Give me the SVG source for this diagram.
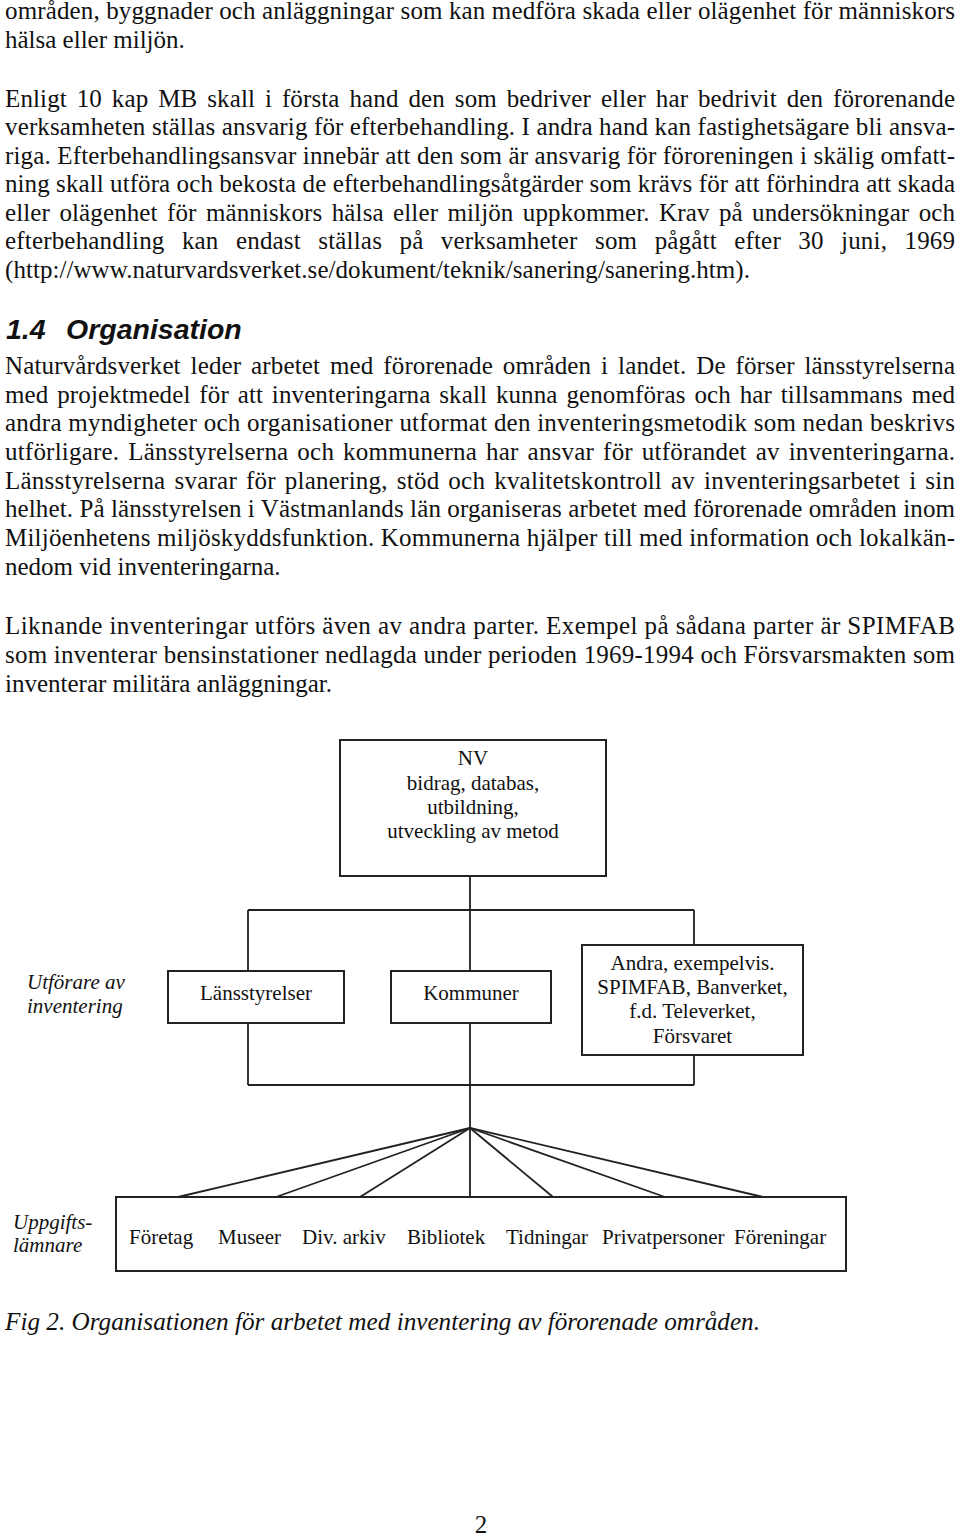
<svg xmlns="http://www.w3.org/2000/svg" width="960" height="1537" viewBox="0 0 960 1537">
<style>
.body{font-family:"Liberation Serif","Times New Roman",serif;font-size:25px;fill:#111}
.head{font-family:"Liberation Sans",Arial,sans-serif;font-size:28.5px;font-weight:bold;font-style:italic;fill:#111}
.lbl{font-family:"Liberation Serif","Times New Roman",serif;font-size:21px;fill:#111}
.it{font-family:"Liberation Serif","Times New Roman",serif;font-size:21px;font-style:italic;fill:#111}
.cap{font-family:"Liberation Serif","Times New Roman",serif;font-size:25px;font-style:italic;fill:#111}
.box{fill:#fff;stroke:#222;stroke-width:2}
.ln{stroke:#222;stroke-width:1.8;fill:none}
</style>
<rect width="960" height="1537" fill="#fff"/>
<g id="text-body">
<text class="body" x="5" y="19" textLength="950" lengthAdjust="spacing">områden, byggnader och anläggningar som kan medföra skada eller olägenhet för människors</text>
<text class="body" x="5" y="48">hälsa eller miljön.</text>
<text class="body" x="5" y="106.5" word-spacing="3.5" textLength="950" lengthAdjust="spacing">Enligt 10 kap MB skall i första hand den som bedriver eller har bedrivit den förorenande</text>
<text class="body" x="5" y="135" textLength="950" lengthAdjust="spacing">verksamheten ställas ansvarig för efterbehandling. I andra hand kan fastighetsägare bli ansva-</text>
<text class="body" x="5" y="163.5" textLength="950" lengthAdjust="spacing">riga. Efterbehandlingsansvar innebär att den som är ansvarig för föroreningen i skälig omfatt-</text>
<text class="body" x="5" y="192" textLength="950" lengthAdjust="spacing">ning skall utföra och bekosta de efterbehandlingsåtgärder som krävs för att förhindra att skada</text>
<text class="body" x="5" y="220.5" word-spacing="3" textLength="950" lengthAdjust="spacing">eller olägenhet för människors hälsa eller miljön uppkommer. Krav på undersökningar och</text>
<text class="body" x="5" y="249" word-spacing="11" textLength="950" lengthAdjust="spacing">efterbehandling kan endast ställas på verksamheter som pågått efter 30 juni, 1969</text>
<text class="body" x="5" y="277.5" textLength="745" lengthAdjust="spacing">(http://www.naturvardsverket.se/dokument/teknik/sanering/sanering.htm).</text>
<text class="head" x="6" y="339">1.4</text>
<text class="head" x="66" y="339">Organisation</text>
<text class="body" x="5" y="374" word-spacing="3.5" textLength="950" lengthAdjust="spacing">Naturvårdsverket leder arbetet med förorenade områden i landet. De förser länsstyrelserna</text>
<text class="body" x="5" y="402.7" word-spacing="2.5" textLength="950" lengthAdjust="spacing">med projektmedel för att inventeringarna skall kunna genomföras och har tillsammans med</text>
<text class="body" x="5" y="431.4" textLength="950" lengthAdjust="spacing">andra myndigheter och organisationer utformat den inventeringsmetodik som nedan beskrivs</text>
<text class="body" x="5" y="460" word-spacing="2.5" textLength="950" lengthAdjust="spacing">utförligare. Länsstyrelserna och kommunerna har ansvar för utförandet av inventeringarna.</text>
<text class="body" x="5" y="488.7" word-spacing="2.5" textLength="950" lengthAdjust="spacing">Länsstyrelserna svarar för planering, stöd och kvalitetskontroll av inventeringsarbetet i sin</text>
<text class="body" x="5" y="517.4" textLength="950" lengthAdjust="spacing">helhet. På länsstyrelsen i Västmanlands län organiseras arbetet med förorenade områden inom</text>
<text class="body" x="5" y="546" textLength="950" lengthAdjust="spacing">Miljöenhetens miljöskyddsfunktion. Kommunerna hjälper till med information och lokalkän-</text>
<text class="body" x="5" y="575">nedom vid inventeringarna.</text>
<text class="body" x="5" y="634" textLength="950" lengthAdjust="spacing">Liknande inventeringar utförs även av andra parter. Exempel på sådana parter är SPIMFAB</text>
<text class="body" x="5" y="663" textLength="950" lengthAdjust="spacing">som inventerar bensinstationer nedlagda under perioden 1969-1994 och Försvarsmakten som</text>
<text class="body" x="5" y="692">inventerar militära anläggningar.</text>
</g>
<g id="connectors">
<line class="ln" x1="470" y1="876" x2="470" y2="971"/>
<line class="ln" x1="248" y1="910" x2="694" y2="910"/>
<line class="ln" x1="248" y1="910" x2="248" y2="971"/>
<line class="ln" x1="248" y1="1023" x2="248" y2="1085"/>
<line class="ln" x1="694" y1="910" x2="694" y2="945"/>
<line class="ln" x1="694" y1="1055" x2="694" y2="1085"/>
<line class="ln" x1="248" y1="1085" x2="694" y2="1085"/>
<line class="ln" x1="470" y1="1023" x2="470" y2="1197"/>
<line class="ln" x1="470" y1="1128" x2="178" y2="1197"/>
<line class="ln" x1="470" y1="1128" x2="276" y2="1197"/>
<line class="ln" x1="470" y1="1128" x2="360" y2="1197"/>
<line class="ln" x1="470" y1="1128" x2="553" y2="1197"/>
<line class="ln" x1="470" y1="1128" x2="665" y2="1197"/>
<line class="ln" x1="470" y1="1128" x2="763" y2="1197"/>
</g>
<g id="nv">
<rect class="box" x="340" y="740" width="266" height="136"/>
<text class="lbl" x="473" y="765" text-anchor="middle">NV</text>
<text class="lbl" x="473" y="790" text-anchor="middle">bidrag, databas,</text>
<text class="lbl" x="473" y="814" text-anchor="middle">utbildning,</text>
<text class="lbl" x="473" y="838" text-anchor="middle">utveckling av metod</text>
</g>
<g id="utforare-label">
<text class="it" x="27" y="989">Utförare av</text>
<text class="it" x="27" y="1013">inventering</text>
</g>
<g id="lansstyrelser">
<rect class="box" x="168" y="971" width="176" height="52"/>
<text class="lbl" x="256" y="1000" text-anchor="middle">Länsstyrelser</text>
</g>
<g id="kommuner">
<rect class="box" x="391" y="971" width="160" height="52"/>
<text class="lbl" x="471" y="1000" text-anchor="middle">Kommuner</text>
</g>
<g id="andra">
<rect class="box" x="582" y="945" width="221" height="110"/>
<text class="lbl" x="692.5" y="970" text-anchor="middle">Andra, exempelvis.</text>
<text class="lbl" x="692.5" y="994" text-anchor="middle">SPIMFAB, Banverket,</text>
<text class="lbl" x="692.5" y="1018" text-anchor="middle">f.d. Televerket,</text>
<text class="lbl" x="692.5" y="1043" text-anchor="middle">Försvaret</text>
</g>
<g id="uppgift-label">
<text class="it" x="13" y="1229">Uppgifts-</text>
<text class="it" x="13" y="1252">lämnare</text>
</g>
<g id="uppgiftslamnare">
<rect class="box" x="116" y="1197" width="730" height="74"/>
<text class="lbl" x="129" y="1244">Företag</text>
<text class="lbl" x="218" y="1244">Museer</text>
<text class="lbl" x="302" y="1244">Div. arkiv</text>
<text class="lbl" x="407" y="1244">Bibliotek</text>
<text class="lbl" x="506" y="1244">Tidningar</text>
<text class="lbl" x="602" y="1244">Privatpersoner</text>
<text class="lbl" x="734" y="1244">Föreningar</text>
</g>
<g id="caption">
<text class="cap" x="5" y="1330" textLength="755" lengthAdjust="spacingAndGlyphs">Fig 2. Organisationen för arbetet med inventering av förorenade områden.</text>
</g>
<g id="page-number">
<text class="body" x="481" y="1533" text-anchor="middle">2</text>
</g>
</svg>
